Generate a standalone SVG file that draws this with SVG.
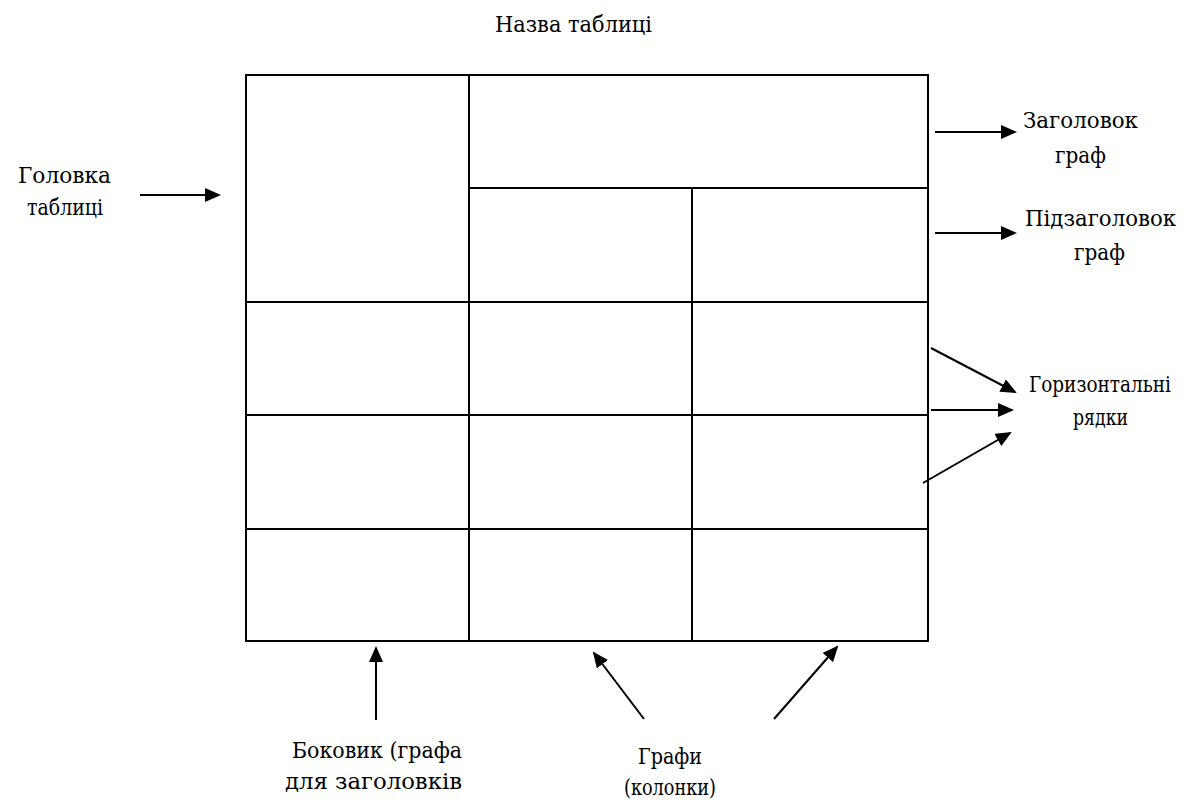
<svg xmlns="http://www.w3.org/2000/svg" width="1200" height="802" viewBox="0 0 1200 802">
<style>
text{font-family:"DejaVu Serif","Liberation Serif",serif;font-size:22px;fill:#000}
.t{fill:none;stroke:#000;stroke-width:2}
.a{fill:none;stroke:#000;stroke-width:2}
</style>
<defs>
<marker id="ah" markerWidth="8" markerHeight="7" refX="7" refY="3.5" orient="auto" markerUnits="strokeWidth">
<path d="M0,0 L8,3.5 L0,7 z" fill="#000"/>
</marker>
</defs>
<rect width="1200" height="802" fill="#fff"/>
<g id="table">
<rect class="t" x="246" y="75" width="682" height="566"/>
<line class="t" x1="469" y1="75" x2="469" y2="641"/>
<line class="t" x1="692" y1="188" x2="692" y2="641"/>
<line class="t" x1="469" y1="188" x2="928" y2="188"/>
<line class="t" x1="246" y1="302" x2="928" y2="302"/>
<line class="t" x1="246" y1="415" x2="928" y2="415"/>
<line class="t" x1="246" y1="529" x2="928" y2="529"/>
</g>
<g id="title"><text x="495" y="32" textLength="157" lengthAdjust="spacingAndGlyphs">Назва таблиці</text></g>
<g id="golovka"><text x="18" y="183" textLength="93" lengthAdjust="spacingAndGlyphs">Головка</text><text x="27" y="215" textLength="76" lengthAdjust="spacingAndGlyphs">таблиці</text></g>
<g id="zagolovok"><text x="1023" y="128" textLength="115" lengthAdjust="spacingAndGlyphs">Заголовок</text><text x="1055" y="163" textLength="51" lengthAdjust="spacingAndGlyphs">граф</text></g>
<g id="pidzagolovok"><text x="1025" y="226" textLength="151" lengthAdjust="spacingAndGlyphs">Підзаголовок</text><text x="1074" y="260" textLength="51" lengthAdjust="spacingAndGlyphs">граф</text></g>
<g id="horyzontalni"><text x="1029" y="392" textLength="142" lengthAdjust="spacingAndGlyphs">Горизонтальні</text><text x="1073" y="425" textLength="55" lengthAdjust="spacingAndGlyphs">рядки</text></g>
<g id="bokovyk"><text x="292" y="758" textLength="170" lengthAdjust="spacingAndGlyphs">Боковик (графа</text><text x="285" y="789" textLength="177" lengthAdjust="spacingAndGlyphs">для заголовків</text></g>
<g id="hrafy"><text x="638" y="764" textLength="64" lengthAdjust="spacingAndGlyphs">Графи</text><text x="624" y="795" textLength="92" lengthAdjust="spacingAndGlyphs">(колонки)</text></g>
<g id="connectors">
<line class="a" x1="140" y1="195" x2="219" y2="195" marker-end="url(#ah)"/>
<line class="a" x1="935" y1="132" x2="1015" y2="132" marker-end="url(#ah)"/>
<line class="a" x1="935" y1="233" x2="1015" y2="233" marker-end="url(#ah)"/>
<line class="a" x1="931" y1="348" x2="1015" y2="392" marker-end="url(#ah)"/>
<line class="a" x1="931" y1="410" x2="1012" y2="410" marker-end="url(#ah)"/>
<line class="a" x1="923" y1="483" x2="1010" y2="433" marker-end="url(#ah)"/>
<line class="a" x1="376" y1="720" x2="376" y2="648" marker-end="url(#ah)"/>
<line class="a" x1="644" y1="719" x2="594" y2="653" marker-end="url(#ah)"/>
<line class="a" x1="774" y1="719" x2="837" y2="647" marker-end="url(#ah)"/>
</g>
</svg>
